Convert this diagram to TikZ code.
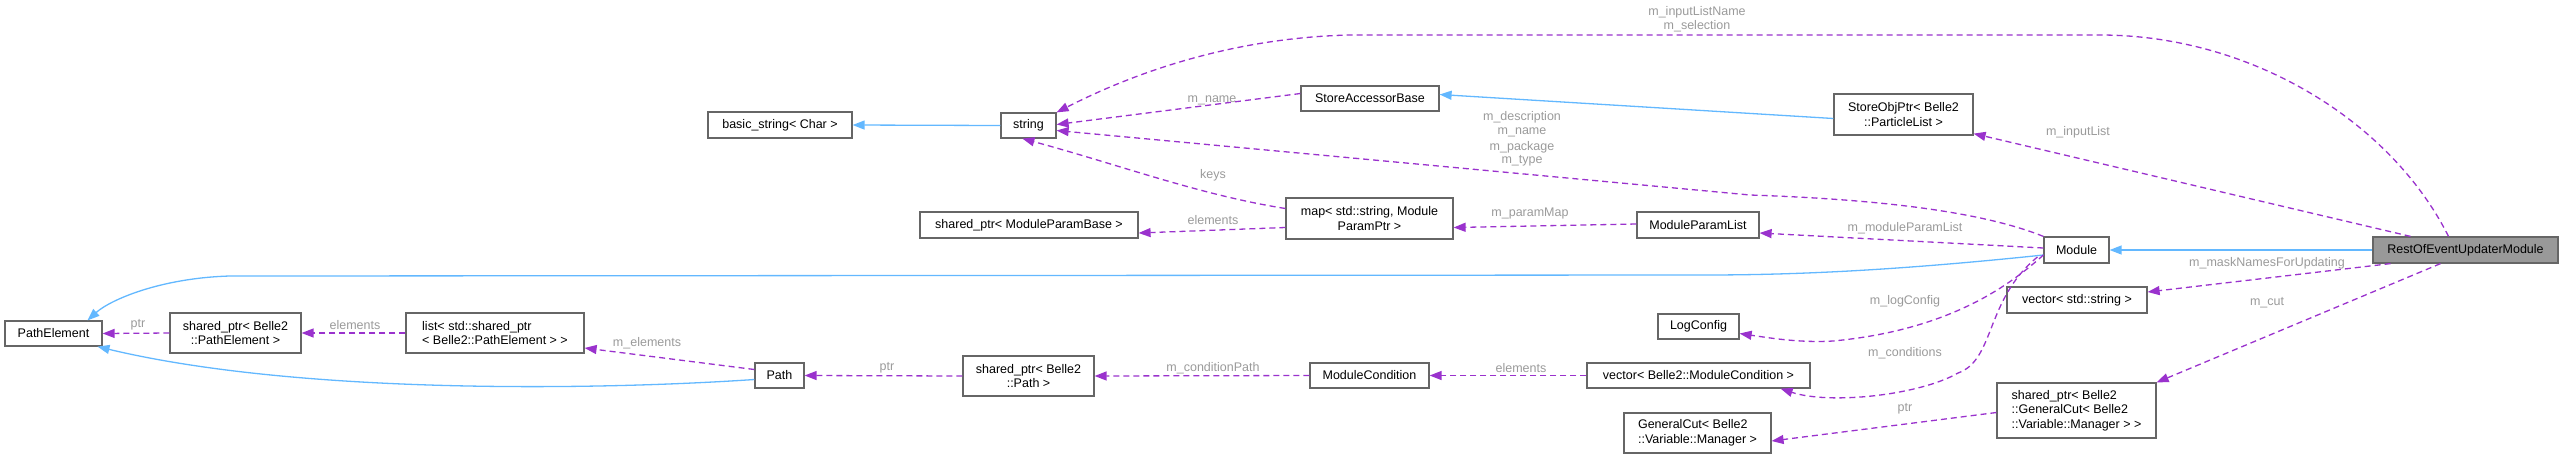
\documentclass[tikz,border=0pt]{standalone}
\usepackage{fontspec}
\setmainfont{Liberation Sans}
\usetikzlibrary{arrows.meta}
\definecolor{dp}{HTML}{9A32CD}
\definecolor{ih}{HTML}{63B8FF}
\definecolor{lg}{HTML}{9A9A9A}
\definecolor{bd}{HTML}{666666}
\newcommand\bx[7][]{\node[box,#1,minimum width={(#5-#3)},minimum height={(#6-#4)}] (#2) at ({(#3+#5)/2},{(#4+#6)/2}) {#7};}
\begin{document}
\begin{tikzpicture}[x=1pt,y=-1pt,
  box/.style={draw=bd,line width=1.2pt,fill=white,inner sep=0pt,align=center,font=\fontsize{12.5}{14.5}\selectfont},
  lbl/.style={text=lg,inner sep=0pt,font=\fontsize{12.5}{14.5}\selectfont},
  dep/.style={draw=dp,line width=1.3pt,dash pattern=on 6pt off 4pt,-{Triangle[length=12pt,width=9pt,fill=dp]}},
  inh/.style={draw=ih,line width=1.3pt,-{Triangle[length=12pt,width=9pt,fill=ih]}}]
\useasboundingbox (0,0) rectangle (2560,459);
\bx{pe}{5}{321}{102}{346}{PathElement}
\bx{spe}{170}{313}{301}{353}{shared\_ptr< Belle2\\::PathElement >}
\bx[align=left]{lst}{406}{313}{584}{353}{list< std::shared\_ptr\\< Belle2::PathElement > >}
\bx{path}{755}{363}{804}{388}{Path}
\bx{bs}{708}{112}{852}{138}{basic\_string< Char >}
\bx{str}{1001}{113}{1056}{138}{string}
\bx{sab}{1301}{86}{1439}{111}{StoreAccessorBase}
\bx{map}{1286}{198}{1453}{239}{map< std::string, Module\\ParamPtr >}
\bx{spm}{920}{212}{1138}{238}{shared\_ptr< ModuleParamBase >}
\bx{mpl}{1637}{212}{1759}{238}{ModuleParamList}
\bx{lc}{1658}{314}{1739}{339}{LogConfig}
\bx{spp}{963}{356}{1094}{396}{shared\_ptr< Belle2\\::Path >}
\bx{mc}{1310}{363}{1429}{388}{ModuleCondition}
\bx{vmc}{1587}{363}{1810}{388}{vector< Belle2::ModuleCondition >}
\bx[align=left]{gc}{1624}{413}{1771}{453}{GeneralCut< Belle2\\::Variable::Manager >}
\bx{sop}{1834}{94}{1973}{135}{StoreObjPtr< Belle2\\::ParticleList >}
\bx{mod}{2044}{237}{2109}{263}{Module}
\bx[fill={rgb,255:red,153;green,153;blue,153}]{roe}{2373}{237}{2558}{263}{RestOfEventUpdaterModule}
\bx{vs}{2007}{287}{2147}{313}{vector< std::string >}
\bx[align=left]{spg}{1997}{383}{2156}{438}{shared\_ptr< Belle2\\::GeneralCut< Belle2\\::Variable::Manager > >}
% inheritance
\draw[inh] (str.west) -- (bs.east);
\draw[inh] ([yshift=-4pt]sop.west) -- ([yshift=4pt]sab.east);
\draw[inh] (roe.west) -- (mod.east);
\draw[inh] ([yshift=-5pt]mod.west) .. controls (1900,270) and (1800,275) .. (1704,275) -- (230,276) .. controls (160,278) and (110,300) .. ([xshift=34pt]pe.north);
\draw[inh] ([yshift=-4pt]path.west) .. controls (600,390) and (300,395) .. ([xshift=44pt]pe.south);
% dependencies
\draw[dep] ([xshift=-17pt]roe.north) .. controls (2390,120) and (2250,35) .. (2100,35) -- (1350,35) .. controls (1220,38) and (1120,80) .. (str.north east);
\draw[dep] ([yshift=5pt]sab.west) -- ([yshift=1pt]str.east);
\draw[dep] (mod.north west) .. controls (1990,215) and (1900,200) .. (1750,195) -- ([yshift=-5pt]str.east);
\draw[dep] ([yshift=10pt]map.west) .. controls (1200,195) and (1120,165) .. ([xshift=22pt]str.south west);
\draw[dep] ([yshift=-9pt]map.west) -- ([yshift=-8pt]spm.east);
\draw[dep] ([yshift=1pt]mpl.west) -- ([yshift=-9pt]map.east);
\draw[dep] ([yshift=2pt]mod.west) -- ([yshift=-8pt]mpl.east);
\draw[dep] ([xshift=-55pt]roe.north) -- ([yshift=2pt]sop.south east);
\draw[dep] ([xshift=-75pt]roe.south) -- ([yshift=8pt]vs.east);
\draw[dep] ([xshift=-25pt]roe.south) -- (spg.north east);
\draw[dep] ([yshift=-5pt]mod.west) .. controls (2010,285) and (1950,330) .. (1833,341) .. controls (1800,343) and (1770,338) .. ([yshift=-7pt]lc.east);
\draw[dep] ([xshift=-6pt,yshift=-7pt]mod.west) .. controls (1985,300) and (1995,360) .. (1958,373) .. controls (1920,395) and (1830,405) .. ([xshift=-30pt]vmc.south east);
\draw[dep] ([yshift=-2pt]spg.west) -- ([yshift=-8pt]gc.east);
\draw[dep] (vmc.west) -- (mc.east);
\draw[dep] (mc.west) -- (spp.east);
\draw[dep] (spp.west) -- (path.east);
\draw[dep] ([yshift=6pt]path.west) -- ([yshift=-15pt]lst.east);
\draw[dep] (lst.west) -- (spe.east);
\draw[dep] (spe.west) -- (pe.east);
% labels
\node[lbl] (l1) at (1697,12) {m\_inputListName};
\node[lbl] (l2) at (1697,26) {m\_selection};
\node[lbl] (l3) at (1212,100) {m\_name};
\node[lbl] (l4) at (1522,117) {m\_description};
\node[lbl] (l5) at (1522,132) {m\_name};
\node[lbl] (l6) at (1522,147) {m\_package};
\node[lbl] (l7) at (1522,161) {m\_type};
\node[lbl] (l8) at (1213,175) {keys};
\node[lbl] (l9) at (1213,220) {elements};
\node[lbl] (l10) at (1530,213) {m\_paramMap};
\node[lbl] (l11) at (1905,228) {m\_moduleParamList};
\node[lbl] (l12) at (2078,132) {m\_inputList};
\node[lbl] (l13) at (2267,263) {m\_maskNamesForUpdating};
\node[lbl] (l14) at (2267,303) {m\_cut};
\node[lbl] (l15) at (1905,301) {m\_logConfig};
\node[lbl] (l16) at (1905,353) {m\_conditions};
\node[lbl] (l17) at (1905,409) {ptr};
\node[lbl] (l18) at (1521,368) {elements};
\node[lbl] (l19) at (1213,368) {m\_conditionPath};
\node[lbl] (l20) at (887,368) {ptr};
\node[lbl] (l21) at (647,343) {m\_elements};
\node[lbl] (l22) at (355,325) {elements};
\node[lbl] (l23) at (138,325) {ptr};
\end{tikzpicture}
\end{document}
